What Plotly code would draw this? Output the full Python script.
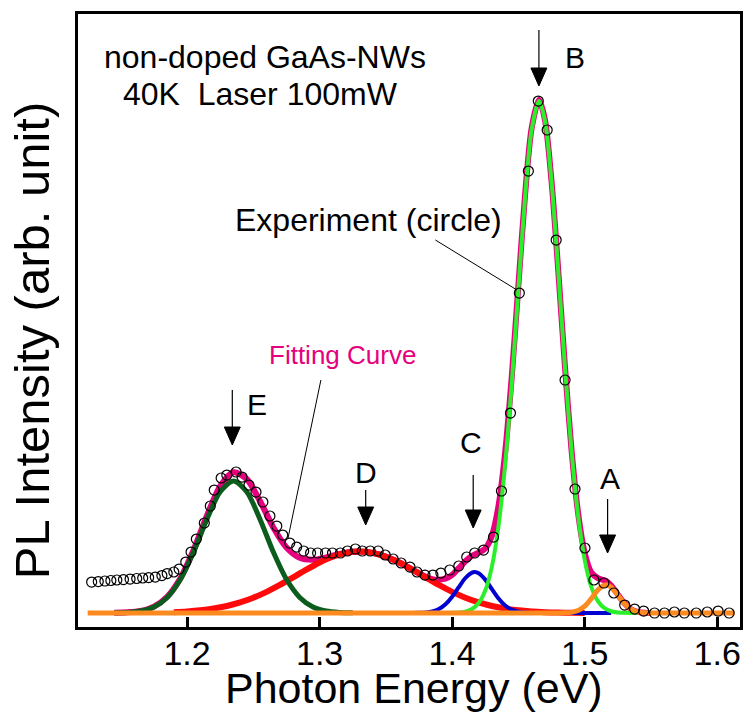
import plotly.graph_objects as go

# ---------------- data ----------------
exp_x = [1.128,1.133,1.138,1.1425,1.147,1.152,1.157,1.162,1.1665,1.171,
         1.176,1.181,1.185,1.190,1.194,1.199,1.203,1.207,1.213,1.2175,
         1.2205,1.2257,1.230,1.237,1.2415,1.2467,1.252,1.2572,1.2625,1.2677,
         1.2722,1.2775,1.2827,1.288,1.2932,1.2985,1.3045,1.3097,1.3157,1.321,
         1.327,1.3322,1.3382,1.3442,1.3495,1.3555,1.3615,1.3682,1.3735,1.3795,
         1.3855,1.3915,1.3982,1.405,1.411,1.417,1.4237,1.4312,1.4372,1.444,
         1.4507,1.4575,1.465,1.4717,1.4785,1.4852,1.4927,1.5002,1.507,1.5145,
         1.522,1.5302,1.5377,1.5445,1.5527,1.5602,1.5677,1.5752,1.5842,1.5925,
         1.6007,1.609]
exp_y = [6.05,6.15,6.25,6.35,6.45,6.54,6.64,6.74,6.84,6.93,
         7.03,7.32,7.71,8.01,8.59,9.96,11.91,14.45,17.58,20.9,
         24.02,26.37,26.95,27.54,26.56,25.0,23.63,21.68,18.95,16.99,
         15.23,13.67,12.89,12.11,11.72,11.72,11.72,11.72,11.72,12.11,
         12.5,12.11,12.11,12.11,11.33,10.55,9.77,8.98,8.01,7.42,
         7.42,7.81,8.40,9.18,10.94,11.72,12.30,14.84,23.83,39.06,
         62.5,86.33,100.0,94.34,72.85,45.51,24.22,12.7,6.45,5.86,
         3.91,1.56,0.78,0.39,0,0,0.2,0,0,0.2,
         0.39,0]

fit_x = [1.145,1.155,1.165,1.175,1.185,1.195,1.205,1.215,1.225,1.235,
         1.245,1.255,1.265,1.275,1.285,1.295,1.305,1.315,1.325,1.335,
         1.345,1.355,1.365,1.375,1.385,1.395,1.400,1.405,1.410,1.415,
         1.420,1.425,1.430,1.435,1.440,1.445,1.450,1.455,1.460,1.4655,
         1.470,1.475,1.480,1.485,1.490,1.495,1.500,1.505,1.510,1.516,
         1.520,1.525,1.530,1.535,1.540,1.545,1.550]
fit_y = [0.04,0.13,0.42,1.26,3.18,6.81,12.36,19.01,24.79,27.49,
         26.19,21.87,16.76,12.80,10.78,10.39,10.87,11.54,11.97,11.94,
         11.43,10.48,9.20,7.76,6.62,6.71,7.44,8.78,10.11,11.18,
         11.78,12.60,15.10,20.94,31.34,46.23,64.08,81.58,94.73,100.23,
         96.37,84.32,67.09,48.60,32.08,19.61,11.75,7.91,6.81,6.28,
         5.38,3.63,1.90,0.74,0.23,0.05,0.0]

peakE_x = [1.145,1.155,1.165,1.175,1.185,1.195,1.205,1.215,1.225,1.235,
           1.245,1.255,1.265,1.275,1.285,1.295,1.305,1.315,1.325]
peakE_y = [0.03,0.11,0.39,1.19,3.05,6.58,11.96,18.33,23.69,25.8,
           23.69,18.33,11.96,6.58,3.05,1.19,0.39,0.11,0.03]

peakD_x = [1.19,1.20,1.21,1.22,1.23,1.24,1.25,1.26,1.27,1.28,
           1.29,1.30,1.31,1.32,1.33,1.34,1.35,1.36,1.37,1.38,
           1.39,1.40,1.41,1.42,1.43,1.44,1.45,1.46,1.47,1.48,
           1.49,1.50]
peakD_y = [0.17,0.31,0.53,0.87,1.37,2.07,2.99,4.14,5.49,6.98,
           8.48,9.87,11.00,11.74,12.0,11.74,11.00,9.87,8.48,6.98,
           5.49,4.14,2.99,2.07,1.37,0.87,0.53,0.31,0.17,0.09,
           0.05,0.02]

peakC_x = [1.370,1.375,1.380,1.385,1.390,1.395,1.400,1.405,1.410,1.415,
           1.417,1.420,1.425,1.430,1.435,1.440,1.445,1.450,1.455,1.460,
           1.470,1.490,1.520]
peakC_y = [0.01,0.03,0.10,0.30,0.78,1.70,3.17,5.05,6.84,7.90,
           8.0,7.77,6.52,4.66,2.84,1.47,0.65,0.25,0.08,0.02,
           0.0,0.0,0.0]

peakB_x = [1.400,1.405,1.410,1.415,1.420,1.425,1.430,1.435,1.440,1.445,
           1.450,1.455,1.460,1.4655,1.470,1.475,1.480,1.485,1.490,1.495,
           1.500,1.505,1.510,1.515,1.520,1.525,1.530,1.540]
peakB_y = [0.03,0.09,0.28,0.78,1.94,4.39,9.07,17.0,29.0,44.9,
           63.3,81.1,94.4,100.0,96.2,84.2,67.0,48.5,31.9,19.1,
           10.4,5.1,2.3,0.94,0.35,0.12,0.04,0.0]

peakA_x = [1.125,1.30,1.47,1.48,1.485,1.490,1.495,1.500,1.505,1.510,
           1.516,1.520,1.525,1.530,1.535,1.540,1.545,1.550,1.560,1.590,1.613]
peakA_y = [0,0,0,0,0.03,0.13,0.48,1.33,2.81,4.51,
           5.5,5.03,3.51,1.86,0.74,0.23,0.05,0.01,0,0,0]

tick_vals = [1.2, 1.3, 1.4, 1.5, 1.6]
tick_text = ["1.2", "1.3", "1.4", "1.5", "1.6"]

# ---------------- figure ----------------
FONT = "Liberation Sans, Arial, sans-serif"
W, H = 748, 721
ML, MR, MT, MB = 78, 5, 14, 94
PW, PH = W - ML - MR, H - MT - MB


def P(px, py):
    """pixel position in the page -> paper coordinates"""
    return (px - ML) / PW, (H - MB - py) / PH


fig = go.Figure()

def add_line(x, y, color, width):
    fig.add_trace(go.Scatter(x=x, y=y, mode="lines",
                             line=dict(color=color, width=width, shape="spline", smoothing=0.8),
                             hoverinfo="skip", showlegend=False))

add_line(fit_x, fit_y, "#e6007e", 6)
add_line(peakD_x, peakD_y, "#ff0a0a", 6)
add_line(peakC_x, peakC_y, "#0000d0", 4)
add_line(peakE_x, peakE_y, "#0b5d1e", 5)
add_line(peakB_x, peakB_y, "#2bef2b", 4)
add_line(peakA_x, peakA_y, "#fc8a1e", 5)

fig.add_trace(go.Scatter(x=exp_x, y=exp_y, mode="markers",
                         marker=dict(symbol="circle-open", size=10, color="black",
                                     line=dict(width=1.2)),
                         hoverinfo="skip", showlegend=False))

shapes = []
annotations = []


def text(px, py, s, size=30, color="black", angle=0):
    x, y = P(px, py)
    annotations.append(dict(x=x, y=y, xref="paper", yref="paper", text=s,
                            showarrow=False, xanchor="center", yanchor="middle",
                            textangle=angle,
                            font=dict(family=FONT, size=size, color=color)))


def seg(x0, y0, x1, y1, w=1):
    a, b = P(x0, y0)
    c, d = P(x1, y1)
    shapes.append(dict(type="line", xref="paper", yref="paper", x0=a, y0=b, x1=c, y1=d,
                       line=dict(color="black", width=w)))


def down_arrow(px, y_top, y_base, y_tip, hw=8):
    seg(px, y_top, px, y_base + 2, 1.2)
    p1 = P(px - hw, y_base)
    p2 = P(px + hw, y_base)
    p3 = P(px, y_tip)
    path = f"M {p1[0]},{p1[1]} L {p2[0]},{p2[1]} L {p3[0]},{p3[1]} Z"
    shapes.append(dict(type="path", xref="paper", yref="paper", path=path,
                       fillcolor="black", line=dict(color="black", width=1)))


text(266, 57, "non-doped GaAs-NWs", 32)
text(261, 94, "40K\u00a0 Laser 100mW", 32)
text(577, 58, "B", 30)
text(612, 478, "A", 30)
text(473, 442, "C", 30)
text(367, 472, "D", 30)
text(258, 404, "E", 30)
text(370, 220, "Experiment (circle)", 32)
text(344, 355, "Fitting Curve", 26, "#e6007e")

# axis titles
text(416, 688, "Photon Energy (eV)", 43)
text(32, 340, "PL Intensity (arb. unit)", 49, angle=-90)

down_arrow(541, 30, 68, 86)
down_arrow(610, 499, 535, 553)
down_arrow(475, 475, 510, 528)
down_arrow(367, 490, 507, 525)
down_arrow(233, 390, 427, 445)

seg(437, 240, 519, 290, 1)
seg(322, 380, 289, 538, 1)

fig.update_layout(
    width=W, height=H,
    margin=dict(l=ML, r=MR, t=MT, b=MB, pad=0),
    paper_bgcolor="white", plot_bgcolor="white",
    font=dict(family=FONT, color="black"),
    shapes=shapes, annotations=annotations,
    xaxis=dict(range=[1.1177, 1.6172], tickvals=tick_vals, ticktext=tick_text,
               ticks="inside", ticklen=10, tickwidth=3, tickcolor="black",
               ticklabelstandoff=-6,
               showline=True, linewidth=3, linecolor="black", mirror=True,
               showgrid=False, zeroline=False,
               tickfont=dict(family=FONT, size=34, color="black")),
    yaxis=dict(range=[-2.73, 117.0], showticklabels=False, ticks="",
               showline=True, linewidth=3, linecolor="black", mirror=True,
               showgrid=False, zeroline=False),
)

fig.write_html("out.html")
